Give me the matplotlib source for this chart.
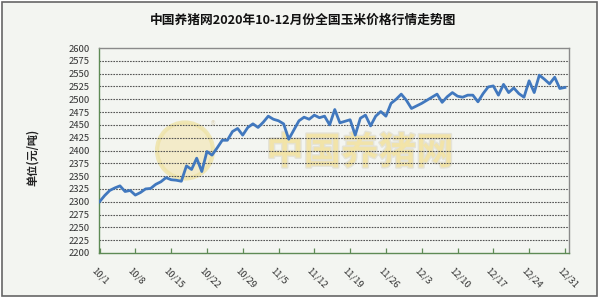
import matplotlib
matplotlib.use("Agg")
import matplotlib.pyplot as plt
import matplotlib.transforms as mtransforms
import matplotlib.patheffects as pe
from matplotlib.patches import Rectangle, Ellipse
import numpy as np

plt.rcParams['font.family'] = ['Noto Sans CJK SC', 'DejaVu Sans']

title = "中国养猪网2020年10-12月份全国玉米价格行情走势图"
ylabel = "单位(元/吨)"
watermark = "中国养猪网"

# daily price, 10/1 .. 12/31 (day index 0..91)
prices = [
    2300, 2312, 2322, 2327, 2331, 2320, 2322, 2313, 2318, 2325,
    2326, 2334, 2339, 2347, 2343, 2342, 2340, 2370, 2363, 2385,
    2359, 2398, 2391, 2405, 2420, 2420, 2437, 2443, 2430, 2445,
    2452, 2445, 2455, 2467, 2461, 2458, 2452, 2422, 2440, 2458,
    2465, 2461, 2469, 2464, 2467, 2450, 2480, 2454, 2457, 2460,
    2430, 2463, 2469, 2448, 2467, 2476, 2467, 2492, 2500, 2510,
    2498, 2482, 2487, 2492, 2498, 2504, 2510, 2494, 2505, 2513,
    2506, 2504, 2508, 2508, 2495, 2511, 2524, 2526, 2508, 2529,
    2513, 2522, 2511, 2504, 2536, 2513, 2547, 2539, 2530, 2543,
    2521, 2523,
]
days = list(range(len(prices)))

tick_days = [0, 7, 14, 21, 28, 35, 42, 49, 56, 63, 70, 77, 84, 91]
tick_labels = ["10/1", "10/8", "10/15", "10/22", "10/29", "11/5", "11/12",
               "11/19", "11/26", "12/3", "12/10", "12/17", "12/24", "12/31"]
y_ticks = list(range(2200, 2601, 25))

W, H = 600, 298
fig = plt.figure(figsize=(W / 100, H / 100), dpi=100)
fig.patch.set_facecolor('white')
bg = '#f3f5f1'
frame = Rectangle((1.5 / W, 2.5 / H), 595.5 / W, 294 / H,
                  transform=fig.transFigure, facecolor=bg,
                  edgecolor='#666666', linewidth=1.2, zorder=-10)
fig.patches.append(frame)

ax = fig.add_axes([99 / W, 1 - 253 / H, 470 / W, 205 / H])
ax.set_zorder(1)
ax.set_facecolor(bg)

# watermark (round logo + site name)
ax.add_patch(Ellipse((0.183, 0.5), 56 / 470, 56 / 205, transform=ax.transAxes,
                     facecolor='#f3e9c0', edgecolor='#eee3a6', linewidth=3,
                     alpha=0.8, zorder=1))
ax.text(0.555, 0.49, watermark, transform=ax.transAxes, ha='center', va='center',
        fontsize=27, fontweight='bold', color='#f3e4a6', alpha=0.85, zorder=1,
        path_effects=[pe.withStroke(linewidth=2, foreground='#e2e0d4')])
ax.text(0.243, 0.62, "®", transform=ax.transAxes, ha='center', va='center',
        fontsize=7, color='#e0d8c0', zorder=1)

ax.plot(days, prices, color='#4178be', linewidth=2.0, zorder=3,
        solid_joinstyle='round')

ax.set_xlim(-0.1, 91.8)
ax.set_ylim(2200, 2600)
ax.set_yticks(y_ticks)
ax.set_yticklabels([str(v) for v in y_ticks])
ax.set_xticks(tick_days)
ax.set_xticklabels(tick_labels)

for v in y_ticks[1:-1]:
    ax.axhline(v, color='#555555', linewidth=0.8, linestyle=(0, (1.5, 1)),
               zorder=2)

ax.tick_params(axis='y', length=0, pad=6.5, labelsize=6.8, labelcolor='#333333')
ax.tick_params(axis='x', direction='in', length=3.5, width=0.9,
               color='#5e8a55', pad=9, labelsize=6.8, labelcolor='#333333')
offset = mtransforms.ScaledTranslation(-3 / 100, 0, fig.dpi_scale_trans)
for lab in ax.get_xticklabels():
    lab.set_rotation(-45)
    lab.set_ha('left')
    lab.set_va('top')
    lab.set_rotation_mode('anchor')
    lab.set_transform(lab.get_transform() + offset)

for s in ['left', 'bottom']:
    ax.spines[s].set_color('#5e8a55')
    ax.spines[s].set_linewidth(1.0)
for s in ['top', 'right']:
    ax.spines[s].set_color('#8a8a8a')
    ax.spines[s].set_linewidth(1.0)

fig.text(303 / W, 1 - 20 / H, title, ha='center', va='center',
         fontsize=9.2, fontweight='bold', color='#111111')
fig.text(32 / W, 1 - 157 / H, ylabel, ha='center', va='center', rotation=90,
         fontsize=8, fontweight='bold', color='#222222')

fig.savefig('out.png', dpi=100, facecolor=fig.get_facecolor())
